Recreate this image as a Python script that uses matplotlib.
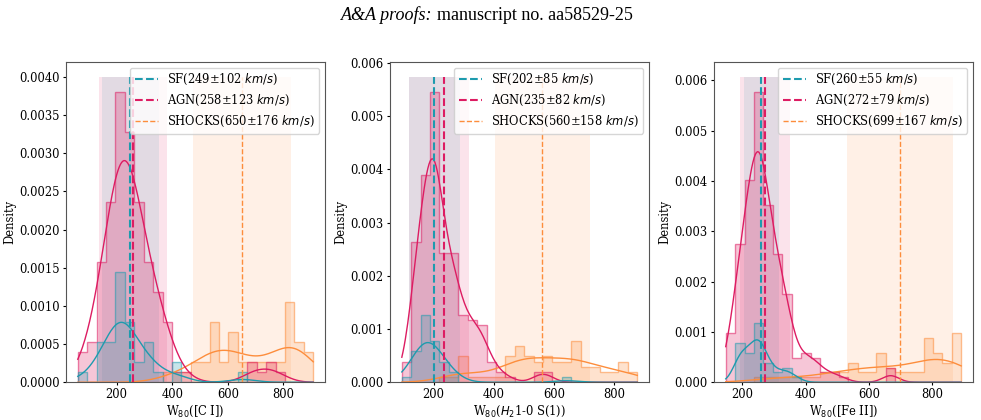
import numpy as np
import matplotlib
matplotlib.use('Agg')
import matplotlib.pyplot as plt

plt.rcParams['font.family'] = 'DejaVu Serif'
plt.rcParams['mathtext.fontset'] = 'dejavusans'
plt.rcParams['font.size'] = 8.3
plt.rcParams['xtick.major.size'] = 2
plt.rcParams['ytick.major.size'] = 2
plt.rcParams['xtick.major.pad'] = 2
plt.rcParams['ytick.major.pad'] = 2.5
plt.rcParams['axes.labelpad'] = 2

classes = ['SF', 'AGN', 'SHOCKS']
colors = {'SF': '#1d9bae', 'AGN': '#dd1c62', 'SHOCKS': '#fd8d3c'}
span_colors = {'SF': '#e2dae3', 'AGN': '#fbe3eb', 'SHOCKS': '#fff0e6'}
vline_width = {'SF': 1.5, 'AGN': 1.5, 'SHOCKS': 1.0}

# [C I]: 25 common bins between data min and max, objects per bin
ci_range = (60, 907)
ci_counts = {
    'SF':     [1, 0, 4, 4, 11, 6, 2, 4, 1, 0, 2, 0, 0, 0, 0, 0, 0, 1, 0, 0, 0, 0, 0, 0, 0],
    'AGN':    [3, 4, 12, 18, 29, 25, 18, 12, 9, 6, 1, 1, 0, 0, 0, 0, 0, 0, 2, 1, 2, 1, 0, 0, 0],
    'SHOCKS': [0, 0, 0, 0, 0, 0, 0, 0, 0, 1, 1, 1, 2, 2, 6, 2, 5, 2, 2, 2, 2, 2, 8, 4, 3],
}
ci_stats = {'SF': (249, 102), 'AGN': (258, 123), 'SHOCKS': (650, 176)}

# H2 1-0 S(1)
h2_range = (94, 876)
h2_counts = {
    'SF':     [1, 6, 13, 8, 4, 2, 0, 0, 0, 0, 0, 0, 0, 0, 0, 0, 0, 1, 0, 0, 0, 0, 0, 0, 0],
    'AGN':    [4, 27, 40, 56, 25, 25, 13, 12, 11, 4, 2, 1, 0, 0, 2, 2, 0, 0, 0, 0, 0, 0, 0, 0, 0],
    'SHOCKS': [0, 0, 0, 0, 1, 1, 5, 1, 1, 1, 1, 5, 7, 5, 4, 5, 4, 4, 8, 3, 3, 2, 2, 4, 2],
}
h2_stats = {'SF': (202, 85), 'AGN': (235, 82), 'SHOCKS': (560, 158)}

# [Fe II]
fe_range = (147, 892)
fe_counts = {
    'SF':     [0, 8, 6, 12, 4, 2, 3, 1, 0, 0, 0, 0, 0, 0, 0, 0, 0, 0, 0, 0, 0, 0, 0, 0, 0],
    'AGN':    [10, 28, 41, 59, 36, 26, 18, 5, 6, 5, 2, 2, 1, 0, 0, 0, 0, 3, 0, 0, 0, 0, 0, 0, 0],
    'SHOCKS': [0, 0, 0, 1, 1, 1, 1, 1, 1, 1, 2, 2, 2, 4, 2, 2, 6, 3, 2, 2, 2, 9, 6, 4, 10],
}
fe_stats = {'SF': (260, 55), 'AGN': (272, 79), 'SHOCKS': (699, 167)}

panels = [
    (ci_range, ci_counts, ci_stats, r'W$_{80}$([C I])'),
    (h2_range, h2_counts, h2_stats, r'W$_{80}$($H_2$1-0 S(1))'),
    (fe_range, fe_counts, fe_stats, r'W$_{80}$([Fe II])'),
]


def kde(samples, grid):
    # gaussian kernel, scott bandwidth (same as seaborn / scipy)
    bw = samples.std(ddof=1) * len(samples) ** -0.2
    z = (grid[:, None] - samples[None, :]) / bw
    return np.exp(-0.5 * z**2).sum(axis=1) / (len(samples) * bw * np.sqrt(2 * np.pi))


fig = plt.figure(figsize=(9.81, 4.20), dpi=100)
lefts = [0.0673, 0.3976, 0.7278]

for left, (rng, counts, stats, xlabel) in zip(lefts, panels):
    ax = fig.add_axes([left, 0.0898, 0.264, 0.7626])
    nbins = len(counts['SF'])
    edges = np.linspace(rng[0], rng[1], nbins + 1)
    width = edges[1] - edges[0]
    centers = 0.5 * (edges[:-1] + edges[1:])
    total = sum(sum(c) for c in counts.values())
    grid = np.linspace(rng[0], rng[1], 200)

    top = 0
    # seaborn draws the first hue last
    for cl in classes[::-1]:
        cnt = np.array(counts[cl])
        dens = cnt / (total * width)
        c = colors[cl]
        ax.stairs(dens, edges, fill=True, facecolor=matplotlib.colors.to_rgba(c, 0.25),
                  edgecolor=matplotlib.colors.to_rgba(c, 0.55), lw=1.0, zorder=2)
        curve = kde(np.repeat(centers, cnt), grid) * cnt.sum() / total
        ax.plot(grid, curve, color=c, lw=1.0, zorder=3)
        top = max(top, dens.max(), curve.max())

    ytop = top * 1.05
    for cl in ['SHOCKS', 'AGN', 'SF']:
        m, s = stats[cl]
        ax.fill_between([m - s, m + s], 0, ytop, color=span_colors[cl], lw=0, zorder=1)
    for cl in classes:
        m, s = stats[cl]
        ax.vlines(m, 0, ytop, colors=colors[cl], linestyles='--', lw=vline_width[cl], zorder=4,
                  label=f'{cl}({m}±{s} ' + r'$km/s$)')

    ax.set_ylim(0, ytop * 1.05)
    ax.set_xlabel(xlabel)
    ax.set_ylabel('Density')
    ax.legend(loc='upper right', fontsize=8.3)
    for sp in ax.spines.values():
        sp.set_color('#555555')
        sp.set_linewidth(0.8)

t1 = fig.text(0.348, 0.963, 'A&A proofs:', family='Liberation Serif', style='italic',
              fontsize=13, va='center', ha='left')
fig.canvas.draw()
bb = t1.get_window_extent()
fig.text(bb.x1 / fig.bbox.width + 0.004, 0.963, 'manuscript no. aa58529-25',
         family='Liberation Serif', fontsize=13, va='center', ha='left')

fig.savefig('out.png', dpi=100)
